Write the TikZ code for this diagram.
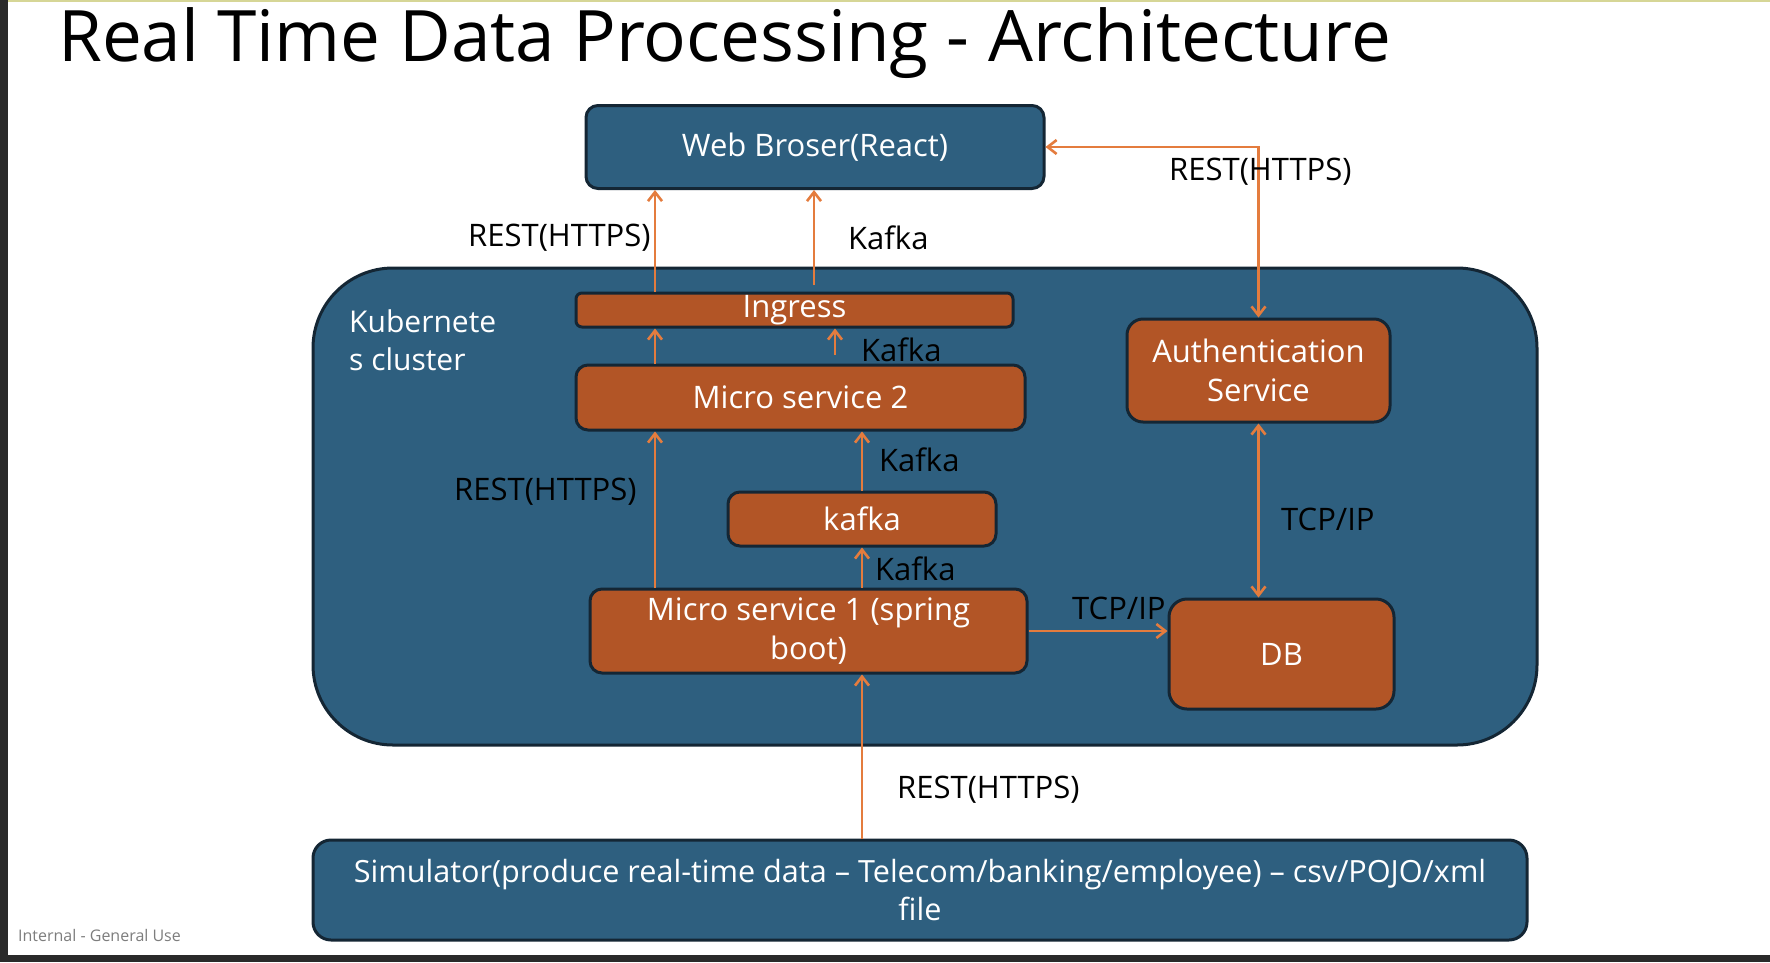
\documentclass[tikz,border=0pt]{standalone}
\usepackage{fontspec}
\setmainfont{Open Sans}
\usetikzlibrary{arrows.meta,calc}
\definecolor{boxblue}{RGB}{46,95,127}
\definecolor{boxorange}{RGB}{178,85,38}
\definecolor{edge}{RGB}{20,38,52}
\definecolor{arrowc}{RGB}{228,124,62}
\definecolor{framedark}{RGB}{42,42,42}
\definecolor{frametop}{RGB}{214,214,150}
\tikzset{
  bluebox/.style={draw=edge, line width=3pt, fill=boxblue, rounded corners=12pt, text=white, align=center, inner sep=0pt, font=\fontsize{31}{38.5}\selectfont},
  orangebox/.style={draw=edge, line width=3pt, fill=boxorange, rounded corners=12pt, text=white, align=center, inner sep=0pt, font=\fontsize{31}{38.5}\selectfont},
  arr/.style={draw=arrowc, line width=2.6pt, -{Straight Barb[length=9pt,width=14pt,line width=2.6pt]}},
  barr/.style={draw=arrowc, line width=2.6pt, {Straight Barb[length=9pt,width=14pt,line width=2.6pt]}-{Straight Barb[length=9pt,width=14pt,line width=2.6pt]}},
  lbl/.style={anchor=west, text=black, inner sep=0pt, font=\fontsize{31}{34}\selectfont}
}
\begin{document}
\begin{tikzpicture}[x=1pt,y=-1pt]
\useasboundingbox (0,0) rectangle (1770,962);
\fill[white] (0,0) rectangle (1770,962);
\fill[framedark] (0,0) rectangle (8,962);
\fill[framedark] (0,955) rectangle (1770,962);
\fill[frametop] (8,0) rectangle (1770,2);

\node[anchor=west, inner sep=0pt, font=\fontsize{71}{73}\selectfont] (title) at (58,43) {Real Time Data Processing - Architecture};

% cluster
\node[draw=edge, line width=3pt, fill=boxblue, rounded corners=80pt, minimum width=1224pt, minimum height=477pt, inner sep=0pt] (cluster) at (925,506.5) {};
\node[anchor=north west, text=white, align=left, inner sep=0pt, font=\fontsize{30}{38.5}\selectfont] (clabel) at (349,309) {Kubernete\\s cluster};

\node[bluebox, minimum width=458pt, minimum height=83pt] (web) at (815,147) {Web Broser(React)};
\node[orangebox, rounded corners=6pt, minimum width=437pt, minimum height=34pt] (ingress) at (794.5,310) {Ingress};
\node[orangebox, minimum width=449pt, minimum height=65pt] (ms2) at (800.5,397.5) {Micro service 2};
\node[orangebox, minimum width=268pt, minimum height=54pt] (kafka) at (862,519) {kafka};
\node[orangebox, minimum width=437pt, minimum height=84pt] (ms1) at (808.5,631) {Micro service 1 (spring\\boot)};
\node[orangebox, rounded corners=16pt, minimum width=263pt, minimum height=103pt] (auth) at (1258.5,370.5) {Authentication\\Service};
\node[orangebox, rounded corners=18pt, minimum width=225pt, minimum height=110pt] (db) at (1281.5,654) {DB};
\node[bluebox, rounded corners=18pt, minimum width=1214pt, minimum height=100pt, font=\fontsize{30.6}{38.5}\selectfont] (sim) at (920,890) {Simulator(produce real-time data – Telecom/banking/employee) – csv/POJO/xml\\file};

% x reference coordinates
\coordinate (xr) at (655,0);
\coordinate (xk) at (814,0);
\coordinate (xq) at (835,0);
\coordinate (xm) at (862,0);
\coordinate (kstart) at (814,285);
\coordinate (qstart) at (835,355);

% connectors
\draw[arr] (ingress.north -| xr) -- (web.south -| xr);
\draw[arr] (kstart) -- (web.south -| xk);
\draw[arr] (ms2.north -| xr) -- (ingress.south -| xr);
\draw[arr] (qstart) -- (ingress.south -| xq);
\draw[arr] (ms1.north -| xr) -- (ms2.south -| xr);
\draw[arr] (kafka.north -| xm) -- (ms2.south -| xm);
\draw[arr] (ms1.north -| xm) -- (kafka.south -| xm);
\draw[arr] (sim.north -| xm) -- (ms1.south -| xm);
\draw[arr] (ms1.east) -- (db.west |- ms1.east);
\draw[barr] (web.east) -- (auth.north |- web.east) -- (auth.north);
\draw[barr] (auth.south) -- (auth.south |- db.north);

% labels
\node[lbl] (l1) at (468,238) {REST(HTTPS)};
\node[lbl] (l2) at (848,238) {Kafka};
\node[lbl] (l3) at (1169,172) {REST(HTTPS)};
\node[lbl] (l4) at (861,350) {Kafka};
\node[lbl] (l5) at (879,460) {Kafka};
\node[lbl] (l6) at (454,492) {REST(HTTPS)};
\node[lbl] (l7) at (875,569) {Kafka};
\node[lbl] (l8) at (1072,608) {TCP/IP};
\node[lbl] (l9) at (1281,519) {TCP/IP};
\node[lbl] (l10) at (897,790) {REST(HTTPS)};

\node[anchor=west, inner sep=0pt, text={rgb,255:red,125;green,125;blue,125}, font=\fontsize{16}{18}\selectfont] (foot) at (18,935) {Internal - General Use};
\end{tikzpicture}
\end{document}
